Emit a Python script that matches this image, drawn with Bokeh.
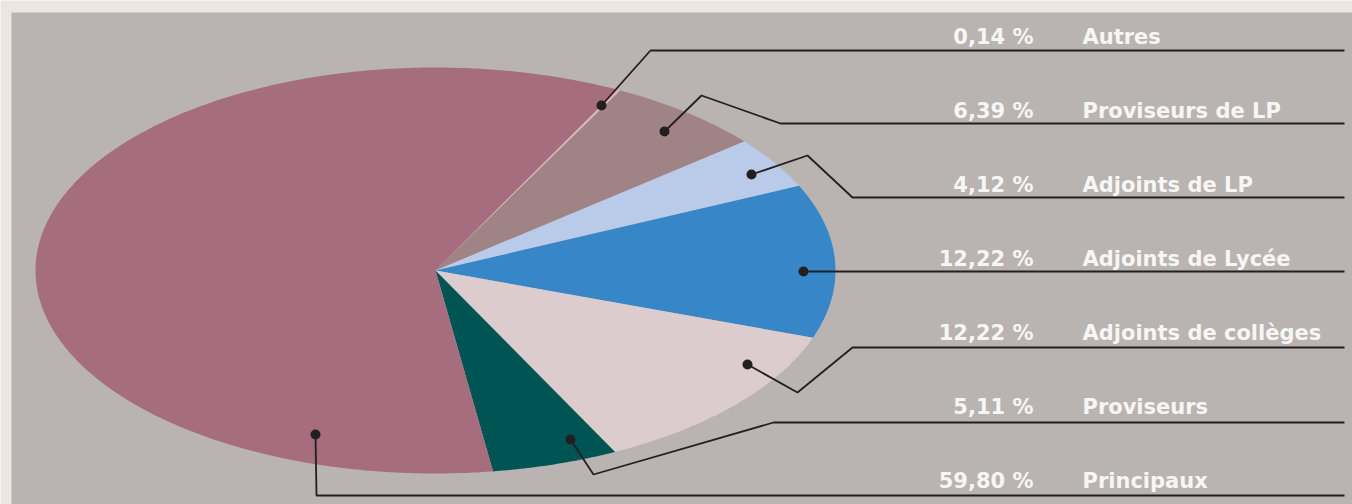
import numpy as np
from bokeh.plotting import figure
from bokeh.models import Range1d
from bokeh.core.properties import value
from bokeh.embed import file_html
from bokeh.resources import INLINE

# ---- data ----
categories = ["Autres", "Proviseurs de LP", "Adjoints de LP", "Adjoints de Lycée",
              "Adjoints de collèges", "Proviseurs", "Principaux"]
percents = [0.14, 6.39, 4.12, 12.22, 12.22, 5.11, 59.80]
percent_labels = ["0,14 %", "6,39 %", "4,12 %", "12,22 %", "12,22 %", "5,11 %", "59,80 %"]
colors = ["#dcb4bd", "#a08384", "#b9cbe8", "#3787c8", "#dccccd", "#005454", "#a56d7e"]

# ---- layout ----
W, H = 1352, 504
cx, cy, rx, ry = 435.0, 270.0, 400.0, 203.0
start_deg = 63.0
text_mid = [36, 110, 184, 258, 332, 406, 480]
row_line = [50, 123, 197, 271, 347, 422, 495]
line_end = 1344
# leader anchors (dot) and bends, per category
leaders = [
    [(601, 105), (650, 50)],
    [(664, 131), (701, 95), (780, 123)],
    [(751, 174), (807, 155), (852, 197)],
    [(803, 271)],
    [(747, 364), (797, 392), (852, 347)],
    [(570, 439), (593, 474), (773, 422)],
    [(315, 434), (316, 495)],
]

p = figure(width=W, height=H, x_range=Range1d(0, W), y_range=Range1d(H, 0),
           output_backend="svg", toolbar_location=None, min_border=0,
           x_axis_type=None, y_axis_type=None)
p.grid.visible = False
p.outline_line_color = None
p.background_fill_color = "#ede5e0"
p.border_fill_color = "#ede5e0"

# gray panel
p.quad(left=[11], right=[W + 5], top=[12], bottom=[H + 5], fill_color="#b9b4b1", line_color=None)

# pie slices (elliptical)
xs, ys = [], []
cum = 0.0
for v in percents:
    a0 = np.radians(start_deg - cum * 3.6)
    a1 = np.radians(start_deg - (cum + v) * 3.6)
    n = max(4, int(abs(a1 - a0) * 120))
    t = np.linspace(a0, a1, n)
    px = [cx] + list(cx + rx * np.cos(t))
    py = [cy] + list(cy - ry * np.sin(t))
    xs.append(px)
    ys.append(py)
    cum += v
p.patches(xs, ys, fill_color=colors, line_color=None)

# leader lines
lxs, lys = [], []
for pts, yl in zip(leaders, row_line):
    lx = [q[0] for q in pts] + [line_end]
    ly = [q[1] for q in pts] + [yl]
    lxs.append(lx)
    lys.append(ly)
p.multi_line(lxs, lys, line_color="#231f20", line_width=1.8)
p.scatter([l[0][0] for l in leaders], [l[0][1] for l in leaders], size=10,
          fill_color="#231f20", line_color=None)

# texts
p.text(x=[1033] * len(percent_labels), y=text_mid, text=percent_labels,
       text_align="right", text_baseline="middle", text_font=value("DejaVu Sans"),
       text_font_style="bold", text_font_size="21px", text_color="#f8f6f4")
p.text(x=[1082] * len(categories), y=text_mid, text=categories,
       text_align="left", text_baseline="middle", text_font=value("DejaVu Sans"),
       text_font_style="bold", text_font_size="21px", text_color="#f8f6f4")

open("out.html", "w").write(file_html(p, INLINE))
